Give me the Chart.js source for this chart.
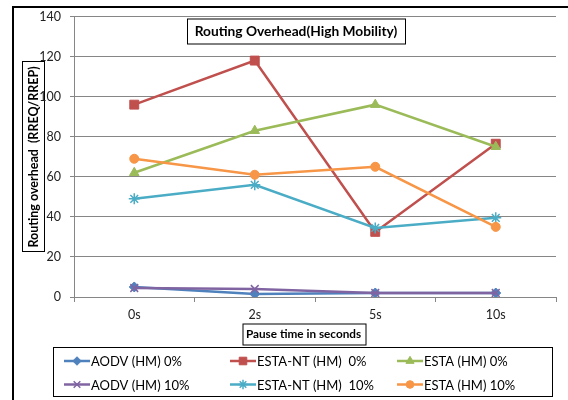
<!DOCTYPE html>
<html>
<head>
<meta charset="utf-8">
<script src="https://cdn.jsdelivr.net/npm/chart.js@4/dist/chart.umd.min.js"></script>
<style>
  html, body { margin: 0; padding: 0; background: #fff; }
  #wrap { width: 568px; height: 400px; }
</style>
</head>
<body>
<div id="wrap"><canvas id="c" width="568" height="400"></canvas></div>
<script>
// Pause time categories and routing overhead per protocol / node share
const pauseTimes = ['0s', '2s', '5s', '10s'];
const aodv0    = [5, 1.5, 2, 2];
const estaNt0  = [96, 118, 32.5, 76.5];
const esta0    = [62, 83, 96, 75];
const aodv10   = [4.5, 4, 2, 2];
const estaNt10 = [49, 56, 34.5, 39.5];
const esta10   = [69, 61, 65, 35];
const yTickValues = [0, 20, 40, 60, 80, 100, 120, 140];

const seriesNames = ['AODV (HM) 0%', 'ESTA-NT (HM)  0%', 'ESTA (HM) 0%',
                     'AODV (HM) 10%', 'ESTA-NT (HM)  10%', 'ESTA (HM) 10%'];

const FONT = 'Lato, "Liberation Sans", sans-serif';

const styles = [
  { color: '#4F81BD', pointStyle: 'rectRot',  radius: 5,   bw: 1 },
  { color: '#C0504D', pointStyle: 'rect',     radius: 6.3, bw: 1 },
  { color: '#9BBB59', pointStyle: 'triangle', radius: 5.5, bw: 1 },
  { color: '#8064A2', pointStyle: 'crossRot', radius: 5.5, bw: 1.5 },
  { color: '#4BACC6', pointStyle: 'star',     radius: 5.5, bw: 1.5 },
  { color: '#F79646', pointStyle: 'circle',   radius: 4.5, bw: 1 }
];
const seriesData = [aodv0, estaNt0, esta0, aodv10, estaNt10, esta10];

const datasets = seriesData.map((vals, i) => ({
  label: seriesNames[i],
  data: vals,
  borderColor: styles[i].color,
  backgroundColor: styles[i].color,
  borderWidth: 2.5,
  pointStyle: styles[i].pointStyle,
  pointRadius: styles[i].radius,
  pointHoverRadius: styles[i].radius,
  pointBackgroundColor: styles[i].color,
  pointBorderColor: styles[i].color,
  pointBorderWidth: styles[i].bw,
  tension: 0,
  order: seriesData.length - i
}));

// Shrink a font until the text fits the given width
function fitFont(ctx, text, weight, maxSize, width) {
  let size = maxSize;
  for (; size > 6; size -= 0.25) {
    ctx.font = weight + ' ' + size + 'px ' + FONT;
    if (ctx.measureText(text).width <= width) break;
  }
  return ctx.font;
}

function boxedText(ctx, text, cx, cy, bw, bh, weight, maxSize, textW, rotate) {
  ctx.save();
  ctx.translate(cx, cy);
  if (rotate) ctx.rotate(-Math.PI / 2);
  ctx.fillStyle = '#fff';
  ctx.fillRect(-bw / 2, -bh / 2, bw, bh);
  ctx.strokeStyle = '#000';
  ctx.lineWidth = 1;
  ctx.strokeRect(Math.round(-bw / 2) + 0.5, Math.round(-bh / 2) + 0.5, Math.round(bw), Math.round(bh));
  ctx.font = fitFont(ctx, text, weight, maxSize, textW);
  ctx.fillStyle = '#000';
  ctx.textAlign = 'center';
  ctx.textBaseline = 'middle';
  ctx.fillText(text, 0, 1);
  ctx.restore();
}

const decorations = {
  id: 'decorations',
  beforeDraw(chart) {
    const ctx = chart.ctx;
    ctx.save();
    ctx.fillStyle = '#fff';
    ctx.fillRect(0, 0, chart.width, chart.height);
    ctx.restore();
    // y axis title sits under the tick labels
    boxedText(ctx, 'Routing overhead  (RREQ/RREP)', 33, 157, 190, 22, 'bold', 13, 182, true);
  },
  afterDraw(chart) {
    const ctx = chart.ctx;

    // frame around the figure
    ctx.save();
    ctx.strokeStyle = '#000';
    ctx.lineWidth = 2;
    ctx.beginPath();
    ctx.moveTo(13, chart.height + 2);
    ctx.lineTo(13, 7);
    ctx.lineTo(chart.width + 2, 7);
    ctx.stroke();
    ctx.restore();

    // chart title
    boxedText(ctx, 'Routing Overhead(High Mobility)', 296, 30.5, 218, 25, 'bold', 16, 206, false);
    // x axis title
    boxedText(ctx, 'Pause time in seconds', 303.5, 333.5, 123, 21, 'bold', 14, 117, false);

    // legend
    ctx.save();
    ctx.strokeStyle = '#000';
    ctx.lineWidth = 1;
    ctx.strokeRect(53.5, 347.5, 499, 49);
    const colX = [64, 230, 397];
    const rowY = [361, 384.5];
    ctx.font = fitFont(ctx, 'AODV (HM) 0%', 'normal', 15, 92);
    ctx.textBaseline = 'middle';
    ctx.textAlign = 'left';
    seriesNames.forEach((name, i) => {
      const x = colX[i % 3];
      const y = rowY[Math.floor(i / 3)];
      const st = styles[i];
      ctx.strokeStyle = st.color;
      ctx.lineWidth = 2.5;
      ctx.beginPath();
      ctx.moveTo(x, y);
      ctx.lineTo(x + 26, y);
      ctx.stroke();
      ctx.fillStyle = st.color;
      ctx.lineWidth = st.bw;
      if (Chart.helpers && Chart.helpers.drawPoint) {
        Chart.helpers.drawPoint(ctx, { pointStyle: st.pointStyle, radius: st.radius * 0.85, rotation: 0, borderWidth: st.bw }, x + 13, y);
      }
      ctx.fillStyle = '#000';
      ctx.fillText(name, x + 27, y + 1);
    });
    ctx.restore();
  }
};

new Chart(document.getElementById('c'), {
  type: 'line',
  data: { labels: pauseTimes, datasets },
  plugins: [decorations],
  options: {
    responsive: false,
    devicePixelRatio: 1,
    animation: false,
    layout: { padding: { top: 16, right: 12, left: 0, bottom: 0 } },
    plugins: { legend: { display: false }, title: { display: false }, tooltip: { enabled: false } },
    scales: {
      x: {
        offset: true,
        grid: { offset: true, drawOnChartArea: false, drawTicks: true, tickLength: 5, color: '#868686' },
        border: { color: '#868686' },
        ticks: { color: '#222', font: { family: FONT, size: 12.5 }, padding: 5 },
        afterFit: s => { s.height = 103; }
      },
      y: {
        min: 0,
        max: 140,
        afterBuildTicks: s => { s.ticks = yTickValues.map(v => ({ value: v })); },
        grid: { color: '#868686', tickLength: 4 },
        border: { color: '#868686' },
        ticks: { color: '#222', font: { family: FONT, size: 12.5 }, padding: 9 },
        afterFit: s => { s.width = 74; }
      }
    }
  }
});
</script>
</body>
</html>
